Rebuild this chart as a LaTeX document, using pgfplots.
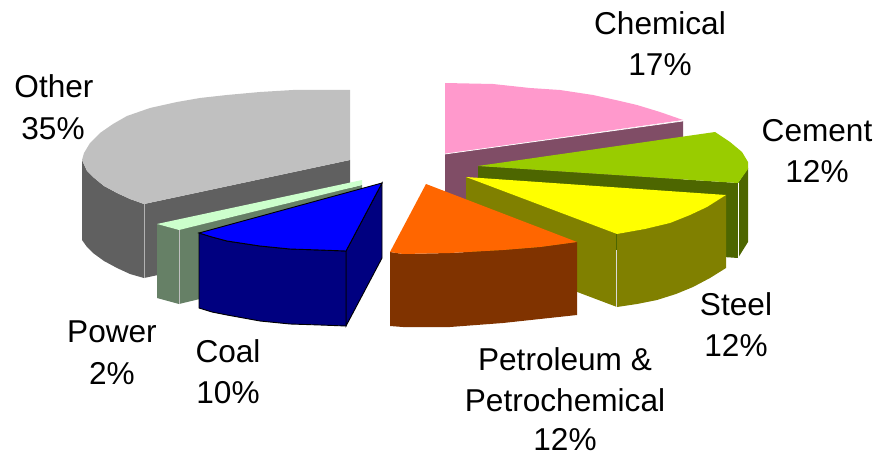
\documentclass[border=0pt]{standalone}
\usepackage{pgfplots}
\pgfplotsset{compat=1.18}
\usepackage{fontspec}
\setmainfont{Liberation Sans}
\definecolor{otherT}{HTML}{C0C0C0}\definecolor{otherW}{HTML}{606060}
\definecolor{pinkT}{HTML}{FF99CC}\definecolor{pinkW}{HTML}{804D66}
\definecolor{cemT}{HTML}{99CC00}\definecolor{cemW}{HTML}{4D6600}
\definecolor{steelT}{HTML}{FFFF00}\definecolor{steelW}{HTML}{808000}
\definecolor{petT}{HTML}{FF6600}\definecolor{petW}{HTML}{803300}
\definecolor{powT}{HTML}{CCFFCC}\definecolor{powW}{HTML}{668066}
\definecolor{coalT}{HTML}{0000FF}\definecolor{coalW}{HTML}{000080}
\tikzset{lab/.style={anchor=base,font=\fontsize{31.6}{36}\selectfont,inner sep=0pt}}
\begin{document}
\begin{tikzpicture}
\begin{axis}[scale only axis,width=874pt,height=454pt,hide axis,clip=false,
  xmin=0,xmax=874,ymin=0,ymax=454,y dir=reverse]
\addplot[draw=none] coordinates {(0,0)(874,454)};
% Other
\addplot[fill=otherW,draw=none] coordinates {(350,160)(144,204)(144,278)(350,234)} -- cycle;
\addplot[fill=otherW,draw=none] coordinates {(82,160)(87,171)(93,177)(104,186)(117,193)(130,199)(144,204)(144,278)(130,274)(117,268)(104,261)(93,253)(87,247)(82,240)} -- cycle;
\addplot[fill=otherT,draw=none] coordinates {(350,90)(293,90)(260,92)(227,95)(200,98)(177,102)(150,108)(127,116)(113,124)(100,133)(90,143)(84,153)(82,160)(87,171)(93,177)(104,186)(117,193)(130,199)(144,204)(350,160)} -- cycle;
\addplot[draw=white!70!black,line width=0.7pt] coordinates {(144,204)(144,278)};
% Chemical
\addplot[fill=pinkW,draw=none] coordinates {(445,154)(683,121)(683,201)(445,230)} -- cycle;
\addplot[fill=pinkT,draw=none] coordinates {(445,83)(493,84)(530,88)(560,90)(593,95)(620,101)(637,105)(660,112)(683,120)(445,154)} -- cycle;
\addplot[draw=white,line width=0.7pt] coordinates {(445,154)(683,121)};
% Cement
\addplot[fill=cemW,draw=none] coordinates {(478,166)(738,183)(738,258)(478,240)} -- cycle;
\addplot[fill=cemW,draw=none] coordinates {(738,183)(748,168)(748,242)(738,258)} -- cycle;
\addplot[fill=cemT,draw=none] coordinates {(478,166)(715,132)(730,142)(742,152)(748,162)(748,169)(738,183)} -- cycle;
\addplot[draw=white,line width=0.7pt] coordinates {(738,183)(738,258)};
% Steel
\addplot[fill=steelW,draw=none] coordinates {(466,177)(617,234)(617,307)(466,250)} -- cycle;
\addplot[fill=steelW,draw=none] coordinates {(617,234)(645,229)(670,223)(690,215)(707,207)(726,195)(726,268)(710,278)(693,287)(676,294)(657,300)(637,304)(617,307)} -- cycle;
\addplot[fill=steelT,draw=none] coordinates {(466,177)(726,195)(707,207)(690,215)(670,223)(645,229)(617,234)} -- cycle;
\addplot[draw=cemW,line width=1pt] coordinates {(616,234)(616,250)};
\addplot[draw=white!85!black,line width=1pt] coordinates {(616,250)(616,307)};
% Petroleum
\addplot[fill=petW,draw=none] coordinates {(390,252)(403,254)(450,253)(503,250)(540,247)(577,242)(577,315)(540,319)(503,323)(450,327)(403,327)(390,326)} -- cycle;
\addplot[fill=petT,draw=none] coordinates {(426,184)(577,242)(540,247)(503,250)(450,253)(403,254)(390,252)} -- cycle;
% Power
\addplot[fill=powW,draw=none] coordinates {(179,230)(362,185)(362,260)(179,304)} -- cycle;
\addplot[fill=powW,draw=none] coordinates {(157,224)(179,230)(179,304)(157,298)} -- cycle;
\addplot[fill=powT,draw=none] coordinates {(157,224)(362,180)(362,185)(179,230)} -- cycle;
\addplot[draw=white!75!black,line width=0.6pt] coordinates {(179,230)(179,304)};
% Coal
\addplot[fill=coalW,draw=black,line width=0.9pt] coordinates {(346,251)(382,183)(382,258)(346,326)} -- cycle;
\addplot[fill=coalW,draw=black,line width=0.9pt] coordinates {(199,233)(212,237)(227,241)(260,246)(290,249)(320,250)(346,251)(346,326)(320,325)(290,324)(260,321)(227,315)(212,312)(199,308)} -- cycle;
\addplot[fill=coalT,draw=black,line width=0.9pt] coordinates {(199,233)(382,183)(346,251)(320,250)(290,249)(260,246)(227,241)(212,237)} -- cycle;
% Labels
\node[lab] at (axis cs:660,35) {Chemical};
\node[lab] at (axis cs:660,76) {17\%};
\node[lab] at (axis cs:817,142) {Cement};
\node[lab] at (axis cs:817,183) {12\%};
\node[lab] at (axis cs:736,315) {Steel};
\node[lab] at (axis cs:736,356) {12\%};
\node[lab] at (axis cs:565,370) {Petroleum \&};
\node[lab] at (axis cs:565,411) {Petrochemical};
\node[lab] at (axis cs:565,450) {12\%};
\node[lab] at (axis cs:112,342) {Power};
\node[lab] at (axis cs:112,384) {2\%};
\node[lab] at (axis cs:228,362) {Coal};
\node[lab] at (axis cs:228,403) {10\%};
\node[lab] at (axis cs:54,98) {Other};
\node[lab] at (axis cs:53,140) {35\%};
\end{axis}
\end{tikzpicture}
\end{document}
